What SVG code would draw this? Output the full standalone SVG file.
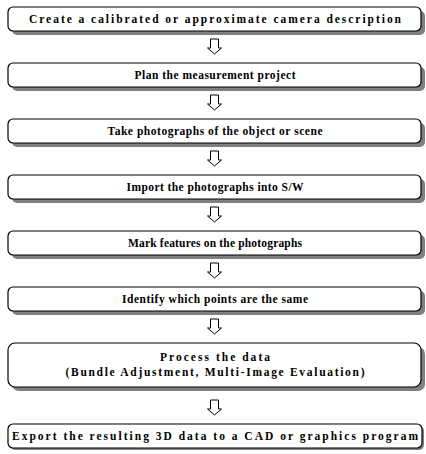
<svg xmlns="http://www.w3.org/2000/svg" width="426" height="454" viewBox="0 0 426 454">
<defs>
<style>
.box{fill:#fff;stroke:#000;stroke-width:1.2}
.sh{fill:#808080}
.t{font-family:'Liberation Serif','Times New Roman',serif;font-weight:bold;font-size:11.5px;fill:#000;text-anchor:middle}
.ar{fill:#fff;stroke:#000;stroke-width:1}
</style>
<path id="arr" class="ar" d="M-4,0 H4 V9 H7 L0,15 L-7,9 H-4 Z"/>
</defs>
<rect width="426" height="454" fill="#fff"/>
<g id="connectors">
<use href="#arr" x="214.5" y="39"/>
<use href="#arr" x="214.5" y="95"/>
<use href="#arr" x="214.5" y="151"/>
<use href="#arr" x="214.5" y="207"/>
<use href="#arr" x="214.5" y="263"/>
<use href="#arr" x="214.5" y="319"/>
<use href="#arr" x="214.5" y="400"/>
</g>
<g id="n1"><rect class="sh" x="12" y="11" width="413" height="24" rx="5"/><rect class="box" x="8" y="7" width="413" height="24" rx="5"/><text class="t" font-family="Liberation Serif" x="215" y="23" textLength="372" lengthAdjust="spacing">Create a calibrated or approximate camera description</text></g>
<g id="n2"><rect class="sh" x="12" y="67" width="413" height="24" rx="5"/><rect class="box" x="8" y="63" width="413" height="24" rx="5"/><text class="t" font-family="Liberation Serif" x="215" y="79" textLength="161" lengthAdjust="spacing">Plan the measurement project</text></g>
<g id="n3"><rect class="sh" x="12" y="123" width="413" height="24" rx="5"/><rect class="box" x="8" y="119" width="413" height="24" rx="5"/><text class="t" font-family="Liberation Serif" x="215" y="135" textLength="215" lengthAdjust="spacing">Take photographs of the object or scene</text></g>
<g id="n4"><rect class="sh" x="12" y="179" width="413" height="24" rx="5"/><rect class="box" x="8" y="175" width="413" height="24" rx="5"/><text class="t" font-family="Liberation Serif" x="215" y="191" textLength="177" lengthAdjust="spacing">Import the photographs into S/W</text></g>
<g id="n5"><rect class="sh" x="12" y="235" width="413" height="24" rx="5"/><rect class="box" x="8" y="231" width="413" height="24" rx="5"/><text class="t" font-family="Liberation Serif" x="215" y="247" textLength="174" lengthAdjust="spacing">Mark features on the photographs</text></g>
<g id="n6"><rect class="sh" x="12" y="291" width="413" height="24" rx="5"/><rect class="box" x="8" y="287" width="413" height="24" rx="5"/><text class="t" font-family="Liberation Serif" x="215" y="303" textLength="186" lengthAdjust="spacing">Identify which points are the same</text></g>
<g id="n7"><rect class="sh" x="12" y="347" width="413" height="44" rx="7"/><rect class="box" x="8" y="343" width="413" height="44" rx="7"/><text class="t" font-family="Liberation Serif" x="215" y="361" textLength="110" lengthAdjust="spacing">Process the data</text><text class="t" font-family="Liberation Serif" x="215" y="376" textLength="299" lengthAdjust="spacing">(Bundle Adjustment, Multi-Image Evaluation)</text></g>
<g id="n8"><rect class="sh" x="10" y="426" width="414" height="24" rx="5"/><rect class="box" x="8" y="424" width="414" height="24" rx="5"/><text class="t" font-family="Liberation Serif" x="215" y="440" textLength="406" lengthAdjust="spacing">Export the resulting 3D data to a CAD or graphics program</text></g>
</svg>
